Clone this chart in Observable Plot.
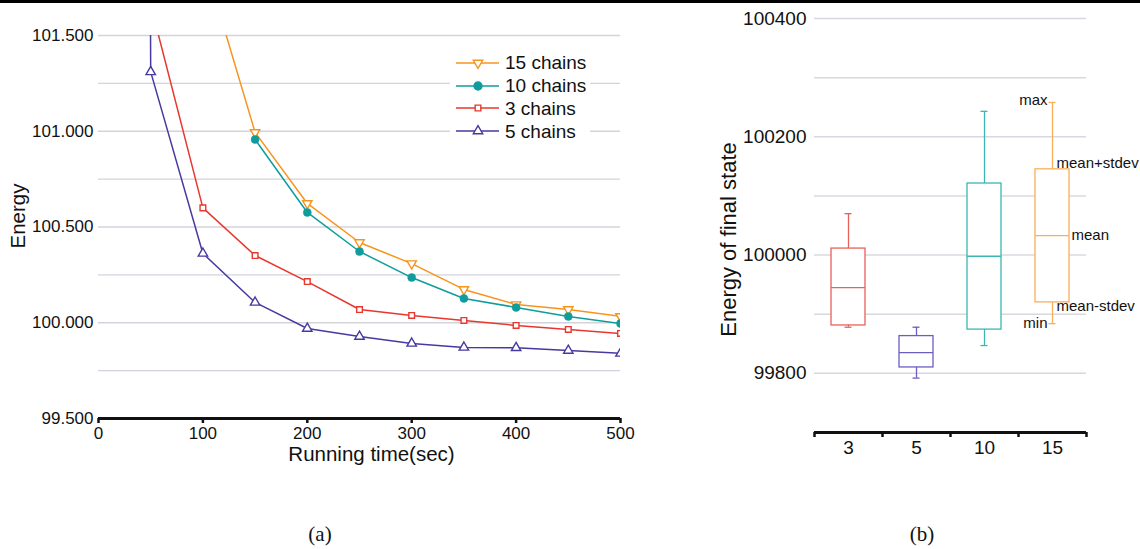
<!DOCTYPE html>
<html><head><meta charset="utf-8">
<script src="https://cdn.jsdelivr.net/npm/d3@7"></script>
<script src="https://cdn.jsdelivr.net/npm/@observablehq/plot@0.6"></script>
<style>
body{margin:0;background:#fff;}
#wrap{position:relative;width:1140px;height:549px;overflow:hidden;font-family:"Liberation Sans",Arial,sans-serif;color:#111;}
#pa{position:absolute;left:0;top:0;}
#pb{position:absolute;left:690px;top:0;}
#topbar{position:absolute;left:0;top:0;width:1140px;height:3px;background:#000;}
.cap{position:absolute;top:522px;font-family:"Liberation Serif",serif;font-size:21px;transform:translateX(-50%);}
#legend{position:absolute;left:450px;top:51.6px;width:140px;background:#fff;}
.lrow{display:flex;align-items:center;height:22.7px;font-size:19px;line-height:1;}
.lrow svg{margin-left:4px;margin-right:5px;flex:none;}
</style></head>
<body>
<div id="wrap">
  <div id="pa"></div>
  <div id="pb"></div>
  <div id="legend"></div>
  <div id="topbar"></div>
  <div class="cap" style="left:320px">(a)</div>
  <div class="cap" style="left:922px">(b)</div>
</div>
<script>
// ---------- Panel (a) data ----------
const seriesNames = ["15 chains", "10 chains", "3 chains", "5 chains"];
const lineColors = ["#F7941D", "#109C9C", "#E8372E", "#463AA0"];
const time15 = [100, 150, 200, 250, 300, 350, 400, 450, 500];
const energy15 = [101.91, 100.994, 100.623, 100.419, 100.309, 100.174, 100.095, 100.069, 100.033];
const time10 = [150, 200, 250, 300, 350, 400, 450, 500];
const energy10 = [100.957, 100.576, 100.372, 100.236, 100.127, 100.080, 100.033, 99.996];
const time3 = [50, 100, 150, 200, 250, 300, 350, 400, 450, 500];
const energy3 = [101.66, 100.60, 100.351, 100.215, 100.069, 100.038, 100.012, 99.986, 99.965, 99.944];
const time5 = [48, 50, 100, 150, 200, 250, 300, 350, 400, 450, 500];
const energy5 = [104.0, 101.31, 100.362, 100.106, 99.970, 99.928, 99.892, 99.871, 99.869, 99.855, 99.840];
const yTicksA = [99.5, 100, 100.5, 101, 101.5];
const yGridA = [99.75, 100, 100.25, 100.5, 100.75, 101, 101.25, 101.5];
const xTicksA = [0, 100, 200, 300, 400, 500];
const xMinorA = [50, 150, 250, 350, 450];

// ---------- Panel (b) data ----------
const chainCounts = ["3", "5", "10", "15"];
const boxColors = ["#E8605A", "#6A5EC0", "#3DB5B5", "#F9AE5A"];
const maxB = [100070, 99878, 100243, 100258];
const upperB = [100011, 99863, 100121, 100145];
const meanB = [99945, 99835, 99998, 100033];
const lowerB = [99881, 99810, 99874, 99920];
const minB = [99878, 99792, 99847, 99884];
const yTicksB = [99800, 100000, 100200, 100400];
const yGridB = [99800, 99900, 100000, 100100, 100200, 100300, 100400];

// ---------- build rows ----------
function mk(name, ts, es) { return ts.map((t, i) => ({series: name, time: t, energy: es[i]})); }
const s15 = mk(seriesNames[0], time15, energy15);
const s10 = mk(seriesNames[1], time10, energy10);
const s3 = mk(seriesNames[2], time3, energy3);
const s5 = mk(seriesNames[3], time5, energy5);
const rowsA = [...s15, ...s10, ...s3, ...s5];

const symR = 3.5;
const plotA = Plot.plot({
  width: 640, height: 480,
  marginLeft: 98, marginRight: 20, marginTop: 35, marginBottom: 62,
  style: {fontFamily: "Liberation Sans, Arial, sans-serif", fontSize: "17px", color: "#111", background: "transparent"},
  x: {domain: [0, 500]},
  y: {domain: [99.5, 101.5]},
  color: {domain: seriesNames, range: lineColors},
  marks: [
    Plot.ruleY(yGridA, {stroke: "#d3d3dc", strokeWidth: 1.3}),
    Plot.line(rowsA, {x: "time", y: "energy", z: "series", stroke: "series", strokeWidth: 1.5, clip: true}),
    Plot.dot(s15, {x: "time", y: "energy", symbol: "triangle", rotate: 180, r: symR, fill: "white", stroke: "series", strokeWidth: 1.4, clip: true}),
    Plot.dot(s10, {x: "time", y: "energy", symbol: "circle", r: 4, fill: "series", stroke: "series", strokeWidth: 0.5, clip: true}),
    Plot.dot(s3, {x: "time", y: "energy", symbol: "square", r: 3.2, fill: "white", stroke: "series", strokeWidth: 1.4, clip: true}),
    Plot.dot(s5, {x: "time", y: "energy", symbol: "triangle", r: symR, fill: "white", stroke: "series", strokeWidth: 1.4, clip: true}),
    Plot.ruleY([99.5], {stroke: "#111", strokeWidth: 3}),
    Plot.axisY({ticks: yTicksA, tickFormat: d3.format(".3f"), tickSize: 0, tickPadding: 5, label: null}),
    Plot.axisX({ticks: xTicksA, tickSize: 5, tickPadding: 3, label: null, strokeWidth: 2.5}),
    Plot.axisX({ticks: xMinorA, tickSize: 2, tickFormat: () => "", label: null, strokeWidth: 2.5}),
    Plot.text(["Running time(sec)"], {frameAnchor: "bottom", dy: 42, dx: 12, fontSize: 20.5}),
    Plot.text(["Energy"], {frameAnchor: "left", textAnchor: "middle", rotate: -90, dx: -80, dy: -11, fontSize: 20.5})
  ]
});
document.getElementById("pa").appendChild(plotA);

// ---------- legend ----------
const legendSymbols = [
  {type: d3.symbolTriangle, rot: 180, fill: "white", r: symR},
  {type: d3.symbolCircle, rot: 0, fill: null, r: 4},
  {type: d3.symbolSquare, rot: 0, fill: "white", r: 3.2},
  {type: d3.symbolTriangle, rot: 0, fill: "white", r: symR}
];
const leg = document.getElementById("legend");
seriesNames.forEach((name, i) => {
  const c = lineColors[i];
  const s = legendSymbols[i];
  const path = d3.symbol(s.type, Math.PI * s.r * s.r)();
  const row = document.createElement("div");
  row.className = "lrow";
  row.innerHTML = `<svg width="46" height="20"><line x1="2" x2="45" y1="10" y2="10" stroke="${c}" stroke-width="1.5"/>` +
    `<path d="${path}" transform="translate(24,10) rotate(${s.rot})" fill="${s.fill || c}" stroke="${c}" stroke-width="1.4"/></svg><span>${name}</span>`;
  leg.appendChild(row);
});

// ---------- Panel (b) ----------
const rowsB = chainCounts.map((n, i) => ({n, max: maxB[i], upper: upperB[i], mean: meanB[i], lower: lowerB[i], min: minB[i]}));
const last = [rowsB[3]];
const plotB = Plot.plot({
  width: 450, height: 480,
  marginLeft: 124, marginRight: 54, marginTop: 18, marginBottom: 48,
  style: {fontFamily: "Liberation Sans, Arial, sans-serif", fontSize: "19px", color: "#111", background: "transparent"},
  x: {type: "band", domain: chainCounts, paddingInner: 0.5, paddingOuter: 0.25},
  y: {domain: [99700, 100400]},
  color: {domain: chainCounts, range: boxColors},
  marks: [
    Plot.ruleY(yGridB, {stroke: "#d8d8e0", strokeWidth: 1.5}),
    Plot.ruleX(rowsB, {x: "n", y1: "min", y2: "max", stroke: "n", strokeWidth: 1.3}),
    Plot.barY(rowsB, {x: "n", y1: "lower", y2: "upper", fill: "white", stroke: "n", strokeWidth: 1.3}),
    Plot.tickY(rowsB, {x: "n", y: "mean", stroke: "n", strokeWidth: 1.3}),
    Plot.tickY(rowsB, {x: "n", y: "max", stroke: "n", strokeWidth: 1.3, insetLeft: 13.5, insetRight: 13.5}),
    Plot.tickY(rowsB, {x: "n", y: "min", stroke: "n", strokeWidth: 1.3, insetLeft: 13.5, insetRight: 13.5}),
    Plot.text(last, {x: "n", y: "max", text: () => "max", textAnchor: "end", dx: -5, dy: -2, fontSize: 15}),
    Plot.text(last, {x: "n", y: "upper", text: () => "mean+stdev", textAnchor: "start", dx: 4, dy: -6, fontSize: 15}),
    Plot.text(last, {x: "n", y: "mean", text: () => "mean", textAnchor: "start", dx: 19, fontSize: 15}),
    Plot.text(last, {x: "n", y: "lower", text: () => "mean-stdev", textAnchor: "start", dx: 4, dy: 4, fontSize: 15}),
    Plot.text(last, {x: "n", y: "min", text: () => "min", textAnchor: "end", dx: -5, fontSize: 15}),
    Plot.ruleY([99700], {stroke: "#111", strokeWidth: 3}),
    Plot.axisY({ticks: yTicksB, tickFormat: d3.format("d"), tickSize: 0, tickPadding: 8, label: null}),
    Plot.axisX({tickSize: 2, tickPadding: 6, label: null, strokeWidth: 2.5}),
    Plot.axisX({tickSize: 5, tickFormat: () => "", label: null, strokeWidth: 2.5, dx: -34}),
    Plot.axisX({ticks: ["15"], tickSize: 5, tickFormat: () => "", label: null, strokeWidth: 2.5, dx: 34}),
    Plot.text(["Energy of final state"], {frameAnchor: "left", textAnchor: "middle", rotate: -90, dx: -86, dy: 14, fontSize: 22})
  ]
});
document.getElementById("pb").appendChild(plotB);
</script>
</body></html>
